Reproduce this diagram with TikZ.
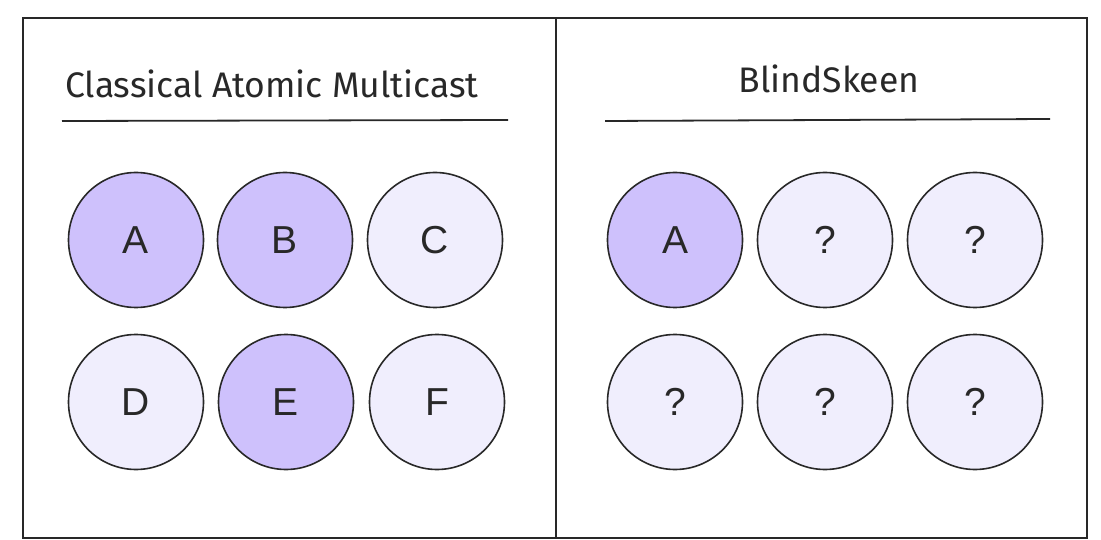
\documentclass[tikz,border=0pt]{standalone}
\usepackage{fontspec}
\setmainfont{Liberation Sans}
\newfontfamily\titlefont{Fira Sans}
\definecolor{inkgray}{RGB}{40,40,40}
\definecolor{hotfill}{RGB}{206,193,252}
\definecolor{coldfill}{RGB}{240,238,253}
\begin{document}
\begin{tikzpicture}[x=1pt,y=-1pt,
  frameline/.style={draw=inkgray,line width=1.8pt},
  node/.style={circle,draw=inkgray,line width=1.6pt,minimum size=135pt,inner sep=0pt,
               font=\fontsize{39}{41}\selectfont,text=inkgray},
  hot/.style={node,fill=hotfill},
  cold/.style={node,fill=coldfill},
  title/.style={font=\titlefont\fontsize{35.5}{38}\selectfont,text=inkgray,inner sep=0pt,anchor=base}]
\useasboundingbox (0,0) rectangle (1101,540);
\fill[white] (0,0) rectangle (1101,540);
% outer frame and divider
\coordinate (tl) at (23,18);
\coordinate (br) at (1087,538);
\coordinate (dtop) at (556,18);
\coordinate (dbot) at (556,538);
\draw[frameline] (tl) rectangle (br);
\draw[frameline] (dtop) -- (dbot);
% titles with rules
\node[title] (t1) at (272,98) {Classical Atomic Multicast};
\node[title] (t2) at (829,93) {BlindSkeen};
\coordinate (r1a) at (62,121);
\coordinate (r1b) at (508,120);
\coordinate (r2a) at (605,121);
\coordinate (r2b) at (1050,119);
\draw[frameline] (r1a) -- (r1b);
\draw[frameline] (r2a) -- (r2b);
% left panel
\node[hot]  (lA) at (136,240) {A};
\node[hot]  (lB) at (285,240) {B};
\node[cold] (lC) at (435,240) {C};
\node[cold] (lD) at (136,402) {D};
\node[hot]  (lE) at (286,402) {E};
\node[cold] (lF) at (437,402) {F};
% right panel
\node[hot]  (rA) at (675,240) {A};
\node[cold] (r2) at (825,240) {?};
\node[cold] (r3) at (975,240) {?};
\node[cold] (r4) at (675,402) {?};
\node[cold] (r5) at (825,402) {?};
\node[cold] (r6) at (975,402) {?};
\end{tikzpicture}
\end{document}
